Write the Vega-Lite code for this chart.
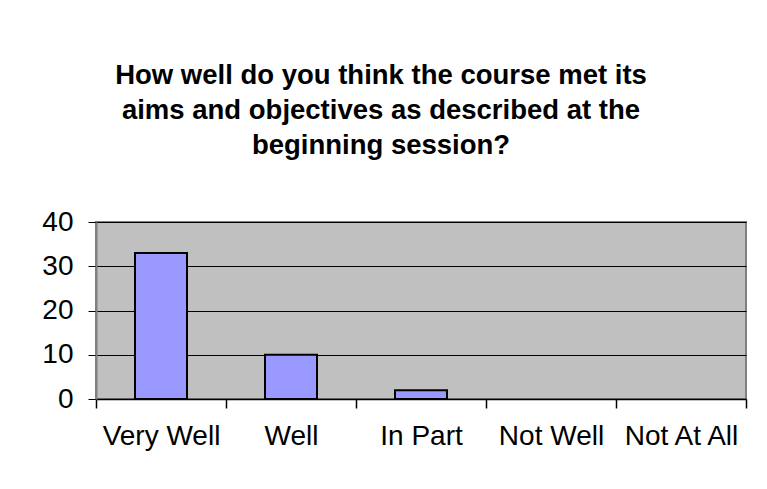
{
  "$schema": "https://vega.github.io/schema/vega-lite/v6.json",
  "width": 650,
  "height": 177,
  "autosize": "none",
  "padding": {"left": 96, "top": 222, "right": 21, "bottom": 90},
  "background": "white",
  "title": {
    "text": ["How well do you think the course met its", "aims and objectives as described at the", "beginning session?"],
    "font": "Liberation Sans",
    "fontSize": 27.5,
    "fontWeight": "bold",
    "color": "black",
    "lineHeight": 35,
    "anchor": "middle",
    "dx": -40,
    "offset": 49
  },
  "config": {
    "view": {"fill": "#C0C0C0", "stroke": "#808080", "strokeWidth": 2},
    "axis": {"labelFont": "Liberation Sans", "labelFontSize": 28, "labelColor": "black"}
  },
  "data": {
    "values": [
      {"response": "Very Well", "count": 33},
      {"response": "Well", "count": 10},
      {"response": "In Part", "count": 2},
      {"response": "Not Well", "count": 0},
      {"response": "Not At All", "count": 0}
    ]
  },
  "transform": [{"filter": "datum.count > 0"}],
  "mark": {"type": "bar", "color": "#9999FF", "stroke": "black", "strokeWidth": 2, "width": {"band": 0.4}},
  "encoding": {
    "x": {
      "field": "response",
      "type": "nominal",
      "sort": null,
      "scale": {
        "domain": ["Very Well", "Well", "In Part", "Not Well", "Not At All"],
        "paddingInner": 0,
        "paddingOuter": 0
      },
      "axis": {
        "title": null,
        "labelAngle": 0,
        "ticks": true,
        "tickBand": "extent",
        "tickColor": "black",
        "tickWidth": 1.5,
        "tickSize": 9,
        "domainColor": "black",
        "domainWidth": 1.5,
        "labelPadding": 14,
        "labelBaseline": "top"
      }
    },
    "y": {
      "field": "count",
      "type": "quantitative",
      "scale": {"domain": [0, 40]},
      "axis": {
        "title": null,
        "values": [0, 10, 20, 30, 40],
        "grid": true,
        "gridColor": "black",
        "gridOpacity": 1,
        "gridWidth": 1,
        "tickColor": "black",
        "tickSize": 8,
        "domainColor": "#808080",
        "domainWidth": 2,
        "labelPadding": 15
      }
    }
  }
}
